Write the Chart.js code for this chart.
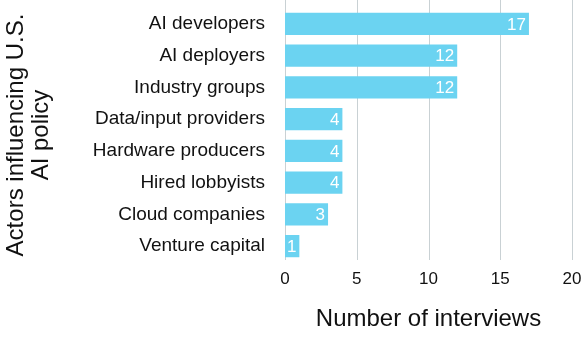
<!DOCTYPE html>
<html>
<head>
<meta charset="utf-8">
<script src="https://cdn.jsdelivr.net/npm/chart.js@4"></script>
<style>
  html, body { margin: 0; padding: 0; background: #fff; overflow: hidden; }
  #wrap { width: 581px; height: 341px; position: relative; }
</style>
</head>
<body>
<div id="wrap"><canvas id="c"></canvas></div>
<script>
const categories = ["AI developers", "AI deployers", "Industry groups", "Data/input providers",
                    "Hardware producers", "Hired lobbyists", "Cloud companies", "Venture capital"];
const interviews = [17, 12, 12, 4, 4, 4, 3, 1];
const xTicks = [0, 5, 10, 15, 20];
const xTitle = "Number of interviews";
const yTitle = ["Actors influencing U.S.", "AI policy"];

const FONT = "'Liberation Sans', Arial, Helvetica, sans-serif";
const GRID = "#c9d1d4";

const gridPlugin = {
  id: 'grid',
  beforeDatasetsDraw(chart) {
    const ctx = chart.ctx, x = chart.scales.x, area = chart.chartArea;
    ctx.save();
    ctx.strokeStyle = GRID;
    ctx.lineWidth = 1;
    xTicks.forEach(v => {
      const px = Math.round(x.getPixelForValue(v)) + 0.5;
      ctx.beginPath();
      ctx.moveTo(px, 0);
      ctx.lineTo(px, area.bottom - 2);
      ctx.stroke();
    });
    ctx.restore();
  }
};

const valuePlugin = {
  id: 'values',
  afterDatasetsDraw(chart) {
    const ctx = chart.ctx;
    const meta = chart.getDatasetMeta(0);
    ctx.save();
    ctx.fillStyle = '#ffffff';
    ctx.font = '17px ' + FONT;
    ctx.textAlign = 'right';
    ctx.textBaseline = 'middle';
    meta.data.forEach((bar, i) => {
      ctx.fillText(String(interviews[i]), bar.x - 3, bar.y + 1);
    });
    ctx.restore();
  }
};

new Chart(document.getElementById('c'), {
  type: 'bar',
  data: {
    labels: categories,
    datasets: [{
      data: interviews,
      backgroundColor: '#6bd3f1',
      borderWidth: 0,
      barPercentage: 0.7,
      categoryPercentage: 1.0
    }]
  },
  options: {
    indexAxis: 'y',
    responsive: true,
    maintainAspectRatio: false,
    animation: false,
    devicePixelRatio: 1,
    layout: { padding: { top: 8, left: 0, right: 9, bottom: 0 } },
    plugins: { legend: { display: false }, tooltip: { enabled: false } },
    scales: {
      x: {
        min: 0, max: 20,
        afterBuildTicks(scale) { scale.ticks = xTicks.map(v => ({ value: v })); },
        afterFit(scale) { scale.height = 79; scale.paddingLeft = 0; scale.paddingRight = 0; },
        grid: { display: false, drawTicks: true, tickLength: 7 },
        border: { display: false },
        ticks: { color: '#111', font: { family: FONT, size: 17 }, padding: 0, maxRotation: 0 },
        title: { display: true, text: xTitle, color: '#111',
                 font: { family: FONT, size: 24, lineHeight: 1.2 }, padding: { top: 0, bottom: 7 } }
      },
      y: {
        afterFit(scale) { scale.width = 285; scale.paddingTop = 0; scale.paddingBottom = 0; },
        grid: { display: false, drawTicks: true, tickLength: 20 },
        border: { display: false },
        ticks: { color: '#111', font: { family: FONT, size: 19 }, padding: 0 },
        title: { display: true, text: yTitle, color: '#111',
                 font: { family: FONT, size: 24, lineHeight: 1.05 }, padding: { top: 4, bottom: 0 } }
      }
    }
  },
  plugins: [gridPlugin, valuePlugin]
});
</script>
</body>
</html>
